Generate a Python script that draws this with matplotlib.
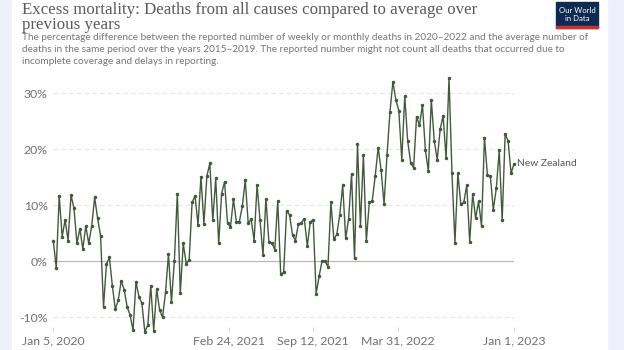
import numpy as np
import pandas as pd
import matplotlib as mpl
mpl.use('Agg')
import matplotlib.pyplot as plt
from matplotlib.patches import Rectangle

plt.rcParams['font.family'] = ['Lato', 'DejaVu Sans']

# weekly excess mortality for New Zealand, % vs 2015-2019 average
nz_excess = [
    3.7, -1.2, 11.7, 4.4, 7.4, 3.7, 11.8, 9.5, 3.2, 5.8,
    2.2, 6.3, 3.2, 6.3, 11.4, 7.7, 4.6, -8.1, -0.5, 0.7,
    -4.4, -8.6, -6.9, -3.5, -5.1, -8.1, -9.6, -12.3, -3.7, -6.3,
    -7.5, -12.6, -11.4, -4.4, -12.4, -5.0, -8.7, -10.0, -5.5, 1.3,
    -7.3, 0.1, 12.1, -5.7, 3.2, -0.4, 0.2, 10.5, 11.7, 6.5,
    15.1, 6.7, 15.2, 17.5, 7.3, 14.8, 3.2, 12.1, 14.2, 6.8,
    6.1, 11.1, 7.0, 7.1, 9.8, 14.5, 6.8, 7.5, 3.7, 13.6,
    7.4, 1.1, 11.2, 3.5, 3.3, 2.1, 10.8, -2.3, -2.0, 9.0,
    8.3, 4.7, 3.7, 6.7, 6.9, 7.6, 2.7, 7.0, 7.4, -5.8,
    -2.7, 0.1, 0.1, -1.0, 10.5, 3.9, 4.8, 8.3, 13.6, 4.1,
    7.6, 15.6, 0.5, 21.0, 6.3, 19.0, 3.6, 10.5, 10.8, 15.2,
    20.3, 16.3, 10.2, 19.0, 26.7, 32.1, 28.8, 26.9, 18.1, 29.5,
    21.5, 17.6, 16.7, 25.8, 24.3, 27.9, 19.8, 16.1, 28.8, 21.5,
    18.1, 23.6, 26.0, 18.4, 32.7, 15.7, 3.3, 15.7, 10.2, 10.5,
    13.6, 3.5, 12.0, 7.7, 10.7, 6.3, 22.1, 15.4, 15.2, 9.2,
    13.0, 19.8, 7.3, 22.7, 21.5, 15.7, 17.4,
]
weeks = pd.date_range('2020-01-05', periods=len(nz_excess), freq='7D')

tick_dates = pd.to_datetime(['2020-01-05', '2021-02-24', '2021-09-12',
                             '2022-03-31', '2023-01-01'])
tick_labels = ['Jan 5, 2020', 'Feb 24, 2021', 'Sep 12, 2021',
               'Mar 31, 2022', 'Jan 1, 2023']
y_ticks = [-10, 0, 10, 20, 30]

W, H = 624, 350
fig = plt.figure(figsize=(W / 100, H / 100), dpi=100, facecolor='#edf0fa')
fig.patches.append(Rectangle((12 / W, 0), (607 - 12) / W, 1,
                             transform=fig.transFigure, color='white', zorder=-5))

# axes placed in pixel terms
ylo, yhi = -11.8, 33.5
px_per_pct = 5.6
zero_y = 261.3
top_px = zero_y - yhi * px_per_pct
bot_px = zero_y - ylo * px_per_pct
ax = fig.add_axes([53.3 / W, 1 - bot_px / H, (514 - 53.3) / W, (bot_px - top_px) / H])
ax.set_facecolor('none')
ax.set_zorder(2)

line_col = '#425a3b'
ax.plot(weeks, nz_excess, color=line_col, lw=1.0, marker='o', ms=1.5,
        clip_on=False, zorder=3)

ax.set_xlim(weeks[0], weeks[-1])
ax.set_ylim(ylo, yhi)
for v in y_ticks:
    if v == 0:
        ax.axhline(0, color='#b8b8b8', lw=0.9, zorder=1)
    else:
        ax.axhline(v, color='#e6e6e6', lw=0.8, ls=(0, (4, 3)), zorder=1)
ax.set_yticks(y_ticks)
ax.set_yticklabels([f'{v}%' for v in y_ticks])
ax.set_xticks(tick_dates)
ax.set_xticklabels(tick_labels)
ax.tick_params(axis='y', length=0, pad=4, labelsize=8.8, labelcolor='#707070')
ax.tick_params(axis='x', length=3, width=0.6, color='#cccccc', pad=3,
               labelsize=8.8, labelcolor='#707070')
for s in ax.spines.values():
    s.set_visible(False)

ax.annotate('New Zealand', xy=(weeks[-1], nz_excess[-1]), xytext=(2.5, 0),
            textcoords='offset points', va='center', ha='left',
            fontsize=7.4, color='#555555', annotation_clip=False)

# header
fig.text(22 / W, 1 - 2 / H, 'Excess mortality: Deaths from all causes compared to average over\nprevious years',
         family=['Liberation Serif'], fontsize=12.2, color='#5a5a5a', va='top',
         ha='left', linespacing=0.88)
fig.text(22 / W, 1 - 33 / H,
         'The percentage difference between the reported number of weekly or monthly deaths in 2020\u20132022 and the average number of\n'
         'deaths in the same period over the years 2015\u20132019. The reported number might not count all deaths that occurred due to\n'
         'incomplete coverage and delays in reporting.',
         fontsize=7.2, color='#777777', va='top', ha='left', linespacing=1.45)

# logo box
fig.patches.append(Rectangle((556 / W, 1 - 28 / H), 42 / W, 26 / H,
                             transform=fig.transFigure, color='#0d2b52', zorder=2))
fig.patches.append(Rectangle((556 / W, 1 - 28 / H), 42 / W, 2.2 / H,
                             transform=fig.transFigure, color='#c8342b', zorder=3))
fig.text(577 / W, 1 - 14.5 / H, 'Our World\nin Data', fontsize=5.6, color='white',
         ha='center', va='center', linespacing=1.1, zorder=4)

fig.savefig('out.png', dpi=100, facecolor=fig.get_facecolor())
